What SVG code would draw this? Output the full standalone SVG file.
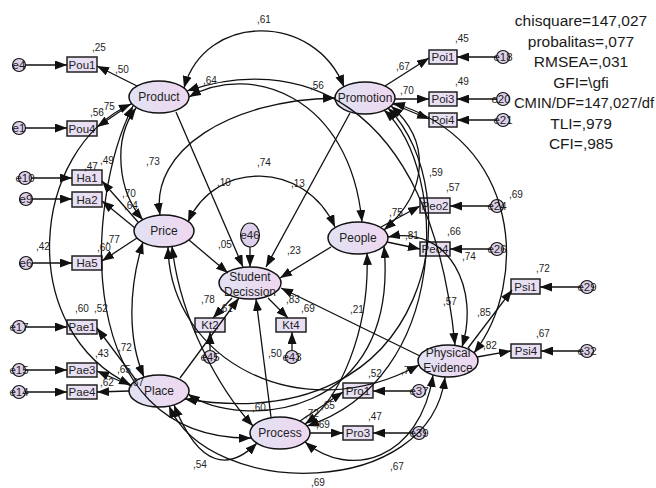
<svg xmlns="http://www.w3.org/2000/svg" width="656" height="488" viewBox="0 0 656 488">
<style>
  .ln{fill:none;stroke:#111;stroke-width:1.3}
  .ar{marker-end:url(#ah)}
  .cv{marker-start:url(#ah);marker-end:url(#ah)}
  .lat{fill:url(#latFill);stroke:#111;stroke-width:1.5}
  .box{fill:url(#boxFill);stroke:#222;stroke-width:1.5}
  .err{fill:#ddd0ea;stroke:#111;stroke-width:1.2}
  .t{font-family:"Liberation Sans",Arial,sans-serif;fill:#1e1e1e}
  .nd{font-size:12px;text-anchor:middle}
  .bx{font-size:11.5px;text-anchor:middle}
  .el{font-size:11.5px;text-anchor:middle}
  .lbl{font-size:10px}
  .st{font-size:15.5px;text-anchor:middle;fill:#1a1a1a}
</style>
<defs>
  <linearGradient id="latFill" x1="0" y1="0" x2="1" y2="0">
    <stop offset="0" stop-color="#e1e2f3"/>
    <stop offset="1" stop-color="#efd7f0"/>
  </linearGradient>
  <linearGradient id="boxFill" x1="0" y1="0" x2="1" y2="0">
    <stop offset="0" stop-color="#e4e2f4"/>
    <stop offset="1" stop-color="#ecdcf1"/>
  </linearGradient>
  <marker id="ah" viewBox="0 0 12 9" refX="12" refY="4.5" markerWidth="12" markerHeight="9" markerUnits="userSpaceOnUse" orient="auto-start-reverse">
    <path d="M0,0 L12,4.5 L0,9 z" fill="#111"/>
  </marker>
</defs>
<rect width="656" height="488" fill="#ffffff"/>

<!-- latent variables -->
<g id="product"><ellipse class="lat" cx="159" cy="97" rx="30" ry="16"/><text class="t nd" x="159" y="101">Product</text></g>
<g id="promotion"><ellipse class="lat" cx="365" cy="98" rx="30" ry="16"/><text class="t nd" x="365" y="102">Promotion</text></g>
<g id="price"><ellipse class="lat" cx="164" cy="231" rx="30" ry="16"/><text class="t nd" x="164" y="235">Price</text></g>
<g id="people"><ellipse class="lat" cx="358" cy="238" rx="30" ry="16"/><text class="t nd" x="358" y="242">People</text></g>
<g id="student-decission"><ellipse class="lat" cx="250" cy="283" rx="31" ry="16"/><text class="t nd" x="250" y="281">Student</text><text class="t nd" x="250" y="296">Decission</text></g>
<g id="place"><ellipse class="lat" cx="159" cy="391" rx="30" ry="16"/><text class="t nd" x="159" y="395">Place</text></g>
<g id="process"><ellipse class="lat" cx="280" cy="433" rx="30" ry="16"/><text class="t nd" x="280" y="437">Process</text></g>
<g id="physical-evidence"><ellipse class="lat" cx="448" cy="361" rx="30" ry="16"/><text class="t nd" x="448" y="357">Physical</text><text class="t nd" x="448" y="372">Evidence</text></g>

<!-- observed indicators -->
<g id="pou1"><rect class="box" x="67" y="57" width="30" height="15"/><text class="t bx" x="82" y="68.5">Pou1</text></g>
<g id="pou4"><rect class="box" x="67" y="121" width="30" height="15"/><text class="t bx" x="82" y="132.5">Pou4</text></g>
<g id="poi1"><rect class="box" x="429" y="50" width="28" height="14"/><text class="t bx" x="443" y="61">Poi1</text></g>
<g id="poi3"><rect class="box" x="429" y="92" width="28" height="14"/><text class="t bx" x="443" y="103">Poi3</text></g>
<g id="poi4"><rect class="box" x="429" y="113" width="28" height="14"/><text class="t bx" x="443" y="124">Poi4</text></g>
<g id="ha1"><rect class="box" x="72" y="170" width="30" height="15"/><text class="t bx" x="87" y="181.5">Ha1</text></g>
<g id="ha2"><rect class="box" x="72" y="192" width="30" height="15"/><text class="t bx" x="87" y="203.5">Ha2</text></g>
<g id="ha5"><rect class="box" x="72" y="256" width="30" height="14"/><text class="t bx" x="87" y="267">Ha5</text></g>
<g id="pae1"><rect class="box" x="67" y="320" width="30" height="14"/><text class="t bx" x="82" y="331">Pae1</text></g>
<g id="pae3"><rect class="box" x="67" y="363" width="30" height="14"/><text class="t bx" x="82" y="374">Pae3</text></g>
<g id="pae4"><rect class="box" x="67" y="385" width="30" height="14"/><text class="t bx" x="82" y="396">Pae4</text></g>
<g id="peo2"><rect class="box" x="420" y="198" width="30" height="15"/><text class="t bx" x="435" y="209.5">Peo2</text></g>
<g id="peo4"><rect class="box" x="420" y="242" width="30" height="14"/><text class="t bx" x="435" y="253">Peo4</text></g>
<g id="psi1"><rect class="box" x="511" y="279" width="29" height="15"/><text class="t bx" x="525.5" y="290.5">Psi1</text></g>
<g id="psi4"><rect class="box" x="511" y="344" width="30" height="14"/><text class="t bx" x="526" y="355">Psi4</text></g>
<g id="pro1"><rect class="box" x="343" y="383" width="30" height="15"/><text class="t bx" x="358" y="394.5">Pro1</text></g>
<g id="pro3"><rect class="box" x="343" y="426" width="30" height="14"/><text class="t bx" x="358" y="437">Pro3</text></g>
<g id="kt2"><rect class="box" x="195" y="318" width="30" height="14"/><text class="t bx" x="210" y="329">Kt2</text></g>
<g id="kt4"><rect class="box" x="276" y="318" width="30" height="14"/><text class="t bx" x="291" y="329">Kt4</text></g>

<!-- error terms -->
<g id="e4"><circle class="err" cx="19" cy="65" r="6.5"/><text class="t el" x="19" y="69">e4</text></g>
<g id="e1"><circle class="err" cx="19" cy="128" r="6.5"/><text class="t el" x="19" y="132">e1</text></g>
<g id="e10"><circle class="err" cx="25" cy="178" r="6.5"/><text class="t el" x="25" y="182">e10</text></g>
<g id="e9"><circle class="err" cx="26" cy="199" r="6.5"/><text class="t el" x="26" y="203">e9</text></g>
<g id="e6"><circle class="err" cx="26" cy="263" r="6.5"/><text class="t el" x="26" y="267">e6</text></g>
<g id="e17"><circle class="err" cx="19" cy="327" r="6.5"/><text class="t el" x="19" y="331">e17</text></g>
<g id="e15"><circle class="err" cx="19" cy="370" r="6.5"/><text class="t el" x="19" y="374">e15</text></g>
<g id="e14"><circle class="err" cx="19" cy="392" r="6.5"/><text class="t el" x="19" y="396">e14</text></g>
<g id="e18"><circle class="err" cx="503" cy="57" r="6.5"/><text class="t el" x="503" y="61">e18</text></g>
<g id="e20"><circle class="err" cx="503" cy="99" r="6.5"/><text class="t el" x="501" y="103">e20</text></g>
<g id="e21"><circle class="err" cx="503" cy="120" r="6.5"/><text class="t el" x="503" y="124">e21</text></g>
<g id="e24"><circle class="err" cx="497" cy="206" r="6.5"/><text class="t el" x="497" y="210">e24</text></g>
<g id="e26"><circle class="err" cx="497" cy="249" r="6.5"/><text class="t el" x="497" y="253">e26</text></g>
<g id="e29"><circle class="err" cx="587" cy="287" r="6.5"/><text class="t el" x="587" y="291">e29</text></g>
<g id="e32"><circle class="err" cx="587" cy="351" r="6.5"/><text class="t el" x="587" y="355">e32</text></g>
<g id="e37"><circle class="err" cx="419" cy="391" r="6.5"/><text class="t el" x="419" y="395">e37</text></g>
<g id="e39"><circle class="err" cx="419" cy="433" r="6.5"/><text class="t el" x="419" y="437">e39</text></g>
<g id="e45"><circle class="err" cx="210" cy="357" r="6.5"/><text class="t el" x="210" y="361">e45</text></g>
<g id="e43"><circle class="err" cx="292" cy="357" r="6.5"/><text class="t el" x="292" y="361">e43</text></g>
<g id="e46"><ellipse class="err" cx="250" cy="235" rx="9.5" ry="12"/><text class="t el" x="250" y="239">e46</text></g>

<!-- connectors -->
<g id="connectors">
  <!-- error terms to indicators -->
  <path class="ln ar" d="M26,65 L67,65"/>
  <path class="ln ar" d="M26,128 L67,128"/>
  <path class="ln ar" d="M32,178 L72,178"/>
  <path class="ln ar" d="M33,199 L72,199"/>
  <path class="ln ar" d="M33,263 L72,263"/>
  <path class="ln ar" d="M26,327 L67,327"/>
  <path class="ln ar" d="M26,370 L67,370"/>
  <path class="ln ar" d="M26,392 L67,392"/>
  <path class="ln ar" d="M496,57 L457,57"/>
  <path class="ln ar" d="M496,99 L457,99"/>
  <path class="ln ar" d="M496,120 L457,120"/>
  <path class="ln ar" d="M490,206 L450,206"/>
  <path class="ln ar" d="M490,249 L450,249"/>
  <path class="ln ar" d="M580,287 L540,287"/>
  <path class="ln ar" d="M580,351 L541,351"/>
  <path class="ln ar" d="M412,391 L373,391"/>
  <path class="ln ar" d="M412,433 L373,433"/>
  <path class="ln ar" d="M210,350 L210,332"/>
  <path class="ln ar" d="M292,350 L292,332"/>
  <path class="ln ar" d="M250,247 L250,267"/>
  <!-- loadings -->
  <path class="ln ar" d="M137,86 L97,66"/>
  <path class="ln ar" d="M131,104 L97,127"/>
  <path class="ln ar" d="M385,86 L429,58"/>
  <path class="ln ar" d="M395,99 L429,99"/>
  <path class="ln ar" d="M393,104 L429,119"/>
  <path class="ln ar" d="M138,222 L102,181"/>
  <path class="ln ar" d="M135,228 L102,201"/>
  <path class="ln ar" d="M137,238 L102,261"/>
  <path class="ln ar" d="M136,380 L97,328"/>
  <path class="ln ar" d="M131,386 L97,371"/>
  <path class="ln ar" d="M129,391 L97,392"/>
  <path class="ln ar" d="M381,227 L420,206"/>
  <path class="ln ar" d="M387,242 L420,249"/>
  <path class="ln ar" d="M468,348 L512,290"/>
  <path class="ln ar" d="M477,357 L511,351"/>
  <path class="ln ar" d="M300,421 L343,392"/>
  <path class="ln ar" d="M310,433 L343,433"/>
  <path class="ln ar" d="M232,298 L213,318"/>
  <path class="ln ar" d="M268,298 L288,318"/>
  <!-- structural paths to Student Decission -->
  <path class="ln ar" d="M176,112 L243,267"/>
  <path class="ln ar" d="M350,113 L266,267"/>
  <path class="ln ar" d="M189,240 L228,273"/>
  <path class="ln ar" d="M331,247 L280,278"/>
  <path class="ln ar" d="M180,378 L239,298"/>
  <path class="ln ar" d="M271,417 L256,299"/>
  <path class="ln ar" d="M420,356 L281,288"/>
  <!-- covariances -->
  <path class="ln cv" d="M184,88 C205,12 315,12 344,87"/>
  <path class="ln cv" d="M136,108 C112,140 118,192 143,220"/>
  <path class="ln cv" d="M189,97 C250,62 350,95 362,222"/>
  <path class="ln cv" d="M131,104 C30,150 15,330 131,385"/>
  <path class="ln cv" d="M133,106 C85,200 70,440 251,438"/>
  <path class="ln cv" d="M187,91 C290,55 430,90 455,345"/>
  <path class="ln cv" d="M160,215 C150,150 230,100 335,98"/>
  <path class="ln cv" d="M391,106 C430,140 430,190 384,230"/>
  <path class="ln cv" d="M388,108 C470,190 440,440 185,399"/>
  <path class="ln cv" d="M384,110 C450,170 450,380 307,426"/>
  <path class="ln cv" d="M393,103 C520,140 530,280 474,353"/>
  <path class="ln cv" d="M188,222 C215,160 305,160 335,227"/>
  <path class="ln cv" d="M143,242 C128,290 128,340 144,377"/>
  <path class="ln cv" d="M172,246 C180,320 220,390 253,426"/>
  <path class="ln cv" d="M168,247 C170,360 300,430 419,365"/>
  <path class="ln cv" d="M188,394 C240,430 400,420 384,246"/>
  <path class="ln cv" d="M367,253 C370,330 340,400 305,424"/>
  <path class="ln cv" d="M388,237 C450,225 480,290 462,347"/>
  <path class="ln cv" d="M174,405 C200,470 230,470 257,443"/>
  <path class="ln cv" d="M169,406 C210,500 430,500 445,377"/>
  <path class="ln cv" d="M305,442 C350,480 420,460 433,375"/>
</g>

<!-- estimates -->
<g id="estimates" class="t lbl">
  <text x="92" y="51">,25</text>
  <text x="115" y="73">,50</text>
  <text x="90" y="116">,56</text>
  <text x="101" y="110">,75</text>
  <text x="257" y="23">,61</text>
  <text x="203" y="84">,64</text>
  <text x="310" y="89">,56</text>
  <text x="396" y="70">,67</text>
  <text x="455" y="42">,45</text>
  <text x="455" y="85">,49</text>
  <text x="400" y="94">,70</text>
  <text x="146" y="165">,73</text>
  <text x="257" y="166">,74</text>
  <text x="217" y="186">,10</text>
  <text x="291" y="187">,13</text>
  <text x="84" y="170">,47</text>
  <text x="100" y="164">,49</text>
  <text x="122" y="197">,70</text>
  <text x="124" y="209">,64</text>
  <text x="36" y="250">,42</text>
  <text x="97" y="251">,60</text>
  <text x="106" y="243">,77</text>
  <text x="218" y="248">,05</text>
  <text x="287" y="254">,23</text>
  <text x="389" y="216">,75</text>
  <text x="405" y="239">,81</text>
  <text x="429" y="176">,59</text>
  <text x="446" y="191">,57</text>
  <text x="447" y="235">,66</text>
  <text x="462" y="260">,74</text>
  <text x="509" y="198">,69</text>
  <text x="536" y="272">,72</text>
  <text x="443" y="305">,57</text>
  <text x="477" y="316">,85</text>
  <text x="483" y="349">,82</text>
  <text x="536" y="337">,67</text>
  <text x="401" y="374">,77</text>
  <text x="350" y="313">,21</text>
  <text x="268" y="357">,50</text>
  <text x="368" y="377">,52</text>
  <text x="368" y="420">,47</text>
  <text x="305" y="417">,72</text>
  <text x="321" y="409">,65</text>
  <text x="316" y="428">,69</text>
  <text x="252" y="411">,60</text>
  <text x="193" y="468">,54</text>
  <text x="390" y="470">,67</text>
  <text x="311" y="486">,69</text>
  <text x="201" y="303">,78</text>
  <text x="219" y="312">,61</text>
  <text x="286" y="303">,83</text>
  <text x="301" y="312">,69</text>
  <text x="75" y="312">,60</text>
  <text x="94" y="312">,52</text>
  <text x="95" y="357">,43</text>
  <text x="118" y="351">,72</text>
  <text x="117" y="373">,65</text>
  <text x="100" y="386">,62</text>
  <text x="130" y="386">,67</text>
</g>

<!-- fit statistics -->
<g id="fit" class="t st">
  <text x="581" y="26">chisquare=147,027</text>
  <text x="581" y="46.5">probalitas=,077</text>
  <text x="581" y="67">RMSEA=,031</text>
  <text x="581" y="87.5">GFI=\gfi</text>
  <text x="584" y="108" style="font-size:14.8px">CMIN/DF=147,027/df</text>
  <text x="581" y="128.5">TLI=,979</text>
  <text x="581" y="149">CFI=,985</text>
</g>
</svg>
